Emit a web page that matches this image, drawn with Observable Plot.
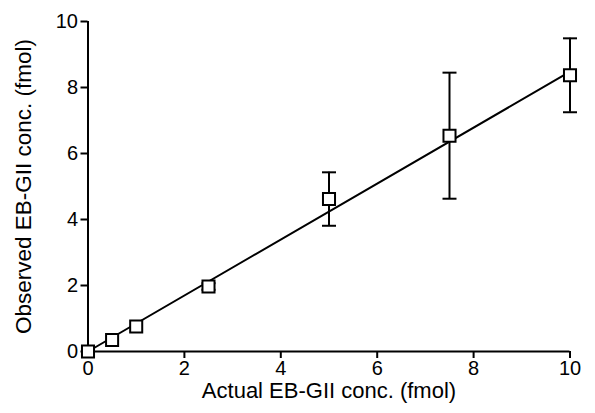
<!DOCTYPE html>
<html>
<head>
<meta charset="utf-8">
<script src="https://cdn.jsdelivr.net/npm/d3@7"></script>
<script src="https://cdn.jsdelivr.net/npm/@observablehq/plot@0.6"></script>
<style>
  html, body { margin: 0; padding: 0; background: #fff; }
  #chart { width: 595px; height: 413px; }
</style>
</head>
<body>
<div id="chart"></div>
<script>
// Actual concentration (fmol)
const actual = [0, 0.5, 1, 2.5, 5, 7.5, 10];
// Observed concentration (fmol), mean
const observed = [0.0, 0.35, 0.76, 1.97, 4.62, 6.54, 8.37];
// Error (± SD) around the observed mean
const errorSD = [0, 0.02, 0.03, 0.1, 0.81, 1.91, 1.12];
// Fitted regression line endpoints
const fitX = [0, 10];
const fitY = [0.0, 8.48];
// Axis ticks
const xTicks = [0, 2, 4, 6, 8, 10];
const yTicks = [0, 2, 4, 6, 8, 10];
const xTitle = "Actual EB-GII conc. (fmol)";
const yTitle = "Observed EB-GII conc. (fmol)";

const points = actual.map((x, i) => ({x, y: observed[i], lo: observed[i] - errorSD[i], hi: observed[i] + errorSD[i], sd: errorSD[i]}));
const fit = fitX.map((x, i) => ({x, y: fitY[i]}));
const bars = points.filter(d => d.sd > 0.05);

const capSymbol = {
  draw(ctx) { ctx.moveTo(-7, 0); ctx.lineTo(7, 0); }
};

const plot = Plot.plot({
  width: 595,
  height: 413,
  marginLeft: 87.5,
  marginRight: 25.5,
  marginTop: 21,
  marginBottom: 62,
  style: {fontFamily: "'Liberation Sans', Arial, sans-serif", background: "#fff", color: "#000"},
  x: {domain: [0, 10]},
  y: {domain: [0, 10]},
  marks: [
    Plot.ruleX([0], {y1: 0, y2: 10, stroke: "#000", strokeWidth: 2}),
    Plot.ruleY([0], {x1: 0, x2: 10, stroke: "#000", strokeWidth: 2}),
    Plot.axisX(xTicks, {tickSize: 7, tickPadding: 2, fontSize: 20, strokeWidth: 2, label: null}),
    Plot.axisY(yTicks, {tickSize: 7, tickPadding: 3, fontSize: 20, strokeWidth: 2, label: null}),
    Plot.text([xTitle], {frameAnchor: "bottom", dy: 46, lineAnchor: "bottom", textAnchor: "middle", fontSize: 22, text: d => d}),
    Plot.text([yTitle], {frameAnchor: "left", rotate: -90, dx: -64, textAnchor: "middle", fontSize: 22.5, text: d => d}),
    Plot.ruleX(bars, {x: "x", y1: "lo", y2: "hi", stroke: "#000", strokeWidth: 2}),
    Plot.dot(bars, {x: "x", y: "hi", symbol: capSymbol, stroke: "#000", strokeWidth: 2, r: 7}),
    Plot.dot(bars, {x: "x", y: "lo", symbol: capSymbol, stroke: "#000", strokeWidth: 2, r: 7}),
    Plot.line(fit, {x: "x", y: "y", stroke: "#000", strokeWidth: 2}),
    Plot.dot(points, {x: "x", y: "y", symbol: "square", r: 6.8, fill: "#fff", stroke: "#000", strokeWidth: 2})
  ]
});
document.getElementById("chart").appendChild(plot);
</script>
</body>
</html>
